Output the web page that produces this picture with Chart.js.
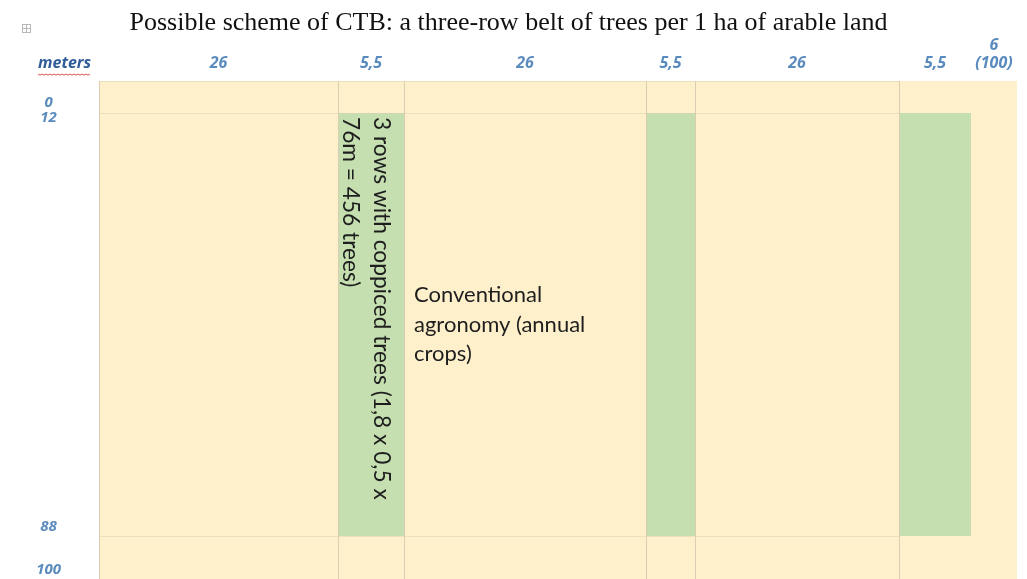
<!DOCTYPE html>
<html>
<head>
<meta charset="utf-8">
<script src="https://cdn.jsdelivr.net/npm/chart.js@4"></script>
<style>
  html, body { margin: 0; padding: 0; background: #fff; }
  #wrap { position: relative; width: 1027px; height: 579px; }
</style>
</head>
<body>
<div id="wrap"><canvas id="myChart"></canvas></div>
<script>
// column labels (meters) and the widths the columns have in the sheet
const colLabels = ['26', '5,5', '26', '5,5', '26', '5,5', ['6', '(100)']];
const colWidths = [239, 66, 242, 49, 204, 72, 46];
// row labels (meters) and row heights as drawn
const rowLabels = ['0', '12', '88', '100'];
const rowLabelAt = [22, 37, 446, 489];
const rowHeights = [32, 423, 43];
// which cells are the tree belts
const treeCols = [1, 3, 5];
const treeRow = 1;
const treeNote = ['3 rows with coppiced trees (1,8 x 0,5 x', '76m = 456 trees)'];
const cropNote = ['Conventional', 'agronomy (annual', 'crops)'];

const beige = '#FFF0CC';
const green = '#C5DFB1';
const line = '#D9CDB2';
const blue = '#5A8BBE';

let colEdges = [0];
colWidths.forEach(w => colEdges.push(colEdges[colEdges.length - 1] + w));
let rowEdges = [0];
rowHeights.forEach(h => rowEdges.push(rowEdges[rowEdges.length - 1] + h));
const colCenters = colWidths.map((w, i) => colEdges[i] + w / 2);
const totalW = colEdges[colEdges.length - 1];
const totalH = rowEdges[rowEdges.length - 1];

// one filled dataset per cell: top edge line, filled down to the row bottom
let cells = [];
for (let r = 0; r < rowHeights.length; r++) {
    for (let c = 0; c < colWidths.length; c++) {
        const isTree = r === treeRow && treeCols.includes(c);
        cells.push({
            data: [{x: colEdges[c], y: rowEdges[r]}, {x: colEdges[c + 1], y: rowEdges[r]}],
            fill: {value: rowEdges[r + 1]},
            backgroundColor: isTree ? green : beige,
            borderColor: c < 5 ? line : 'rgba(0,0,0,0)',
            borderWidth: 1,
            pointRadius: 0,
            tension: 0
        });
    }
}

const notes = {
    id: 'notes',
    afterDraw(chart) {
        const ctx = chart.ctx;
        const x = chart.scales.x;
        const y = chart.scales.y;
        ctx.save();

        // little table handle in the corner
        ctx.strokeStyle = '#b8b8b8';
        ctx.lineWidth = 1;
        ctx.strokeRect(22.5, 24.5, 8, 8);
        ctx.beginPath();
        ctx.moveTo(26.5, 24.5); ctx.lineTo(26.5, 32.5);
        ctx.moveTo(22.5, 28.5); ctx.lineTo(30.5, 28.5);
        ctx.stroke();

        // "meters" header with the spell-check squiggle
        ctx.font = 'italic bold 16px "Open Sans"';
        ctx.fillStyle = '#2F5C99';
        ctx.textBaseline = 'middle';
        ctx.textAlign = 'left';
        ctx.fillText('meters', 38, 63);
        const mw = ctx.measureText('meters').width;
        ctx.strokeStyle = '#D9534F';
        ctx.beginPath();
        for (let i = 0; i <= mw; i += 2) {
            const yy = 74 + (i % 4 === 0 ? 0 : 1.2);
            if (i === 0) ctx.moveTo(38 + i, yy); else ctx.lineTo(38 + i, yy);
        }
        ctx.stroke();

        // rotated note in the first belt
        ctx.fillStyle = '#1e1e1e';
        ctx.font = '22.7px Lato';
        const right = x.getPixelForValue(colEdges[2]);
        const top = y.getPixelForValue(rowEdges[treeRow]);
        ctx.save();
        ctx.translate(right - 23, top + 4);
        ctx.rotate(Math.PI / 2);
        ctx.textAlign = 'left';
        treeNote.forEach((t, i) => ctx.fillText(t, 0, i * 31));
        ctx.restore();

        // crop note
        ctx.font = '22px Lato';
        const left = x.getPixelForValue(colEdges[2]) + 10;
        const cy = (y.getPixelForValue(rowEdges[treeRow]) + y.getPixelForValue(rowEdges[treeRow + 1])) / 2;
        ctx.textAlign = 'left';
        cropNote.forEach((t, i) => ctx.fillText(t, left, cy + (i - 1) * 29.5));

        ctx.restore();
    }
};

const ctx = document.getElementById('myChart').getContext('2d');
const myChart = new Chart(ctx, {
    type: 'line',
    data: {datasets: cells},
    plugins: [notes],
    options: {
        responsive: true,
        maintainAspectRatio: false,
        animation: false,
        events: [],
        layout: {padding: {left: 0, right: 10, top: 0, bottom: 0}},
        plugins: {
            legend: {display: false},
            tooltip: {enabled: false},
            title: {
                display: true,
                text: 'Possible scheme of CTB: a three-row belt of trees per 1 ha of arable land',
                color: '#111',
                font: {family: '"Liberation Serif"', size: 26, weight: 'normal', lineHeight: 1},
                padding: {top: 10, bottom: 0}
            }
        },
        scales: {
            x: {
                type: 'linear',
                position: 'top',
                min: 0,
                max: totalW,
                afterBuildTicks: s => { s.ticks = colCenters.map(v => ({value: v})); },
                afterFit: s => { s.height = 45; s.paddingLeft = 0; s.paddingRight = 0; },
                grid: {display: false, drawTicks: false},
                border: {display: false},
                ticks: {
                    autoSkip: false,
                    maxRotation: 0,
                    padding: 9.2,
                    color: blue,
                    font: {family: '"Open Sans"', size: 16, style: 'italic', weight: 'bold', lineHeight: 1.1},
                    callback: (v, i) => colLabels[i]
                }
            },
            xg: {
                type: 'linear',
                position: 'top',
                min: 0,
                max: totalW,
                afterBuildTicks: s => { s.ticks = colEdges.slice(0, 6).map(v => ({value: v})); },
                afterFit: s => { s.height = 0; s.paddingLeft = 0; s.paddingRight = 0; },
                grid: {color: line, lineWidth: 1, drawTicks: false, z: 1},
                border: {display: false},
                ticks: {display: false}
            },
            y: {
                type: 'linear',
                reverse: true,
                min: 0,
                max: totalH,
                afterBuildTicks: s => { s.ticks = rowLabelAt.map(v => ({value: v})); },
                afterFit: s => { s.width = 99; s.paddingTop = 0; s.paddingBottom = 0; },
                grid: {display: false, drawTicks: false},
                border: {display: false},
                ticks: {
                    crossAlign: 'center',
                    padding: 38,
                    color: blue,
                    font: {family: '"Open Sans"', size: 15, style: 'italic', weight: 'bold'},
                    callback: (v, i) => rowLabels[i]
                }
            }
        }
    }
});
</script>
</body>
</html>
